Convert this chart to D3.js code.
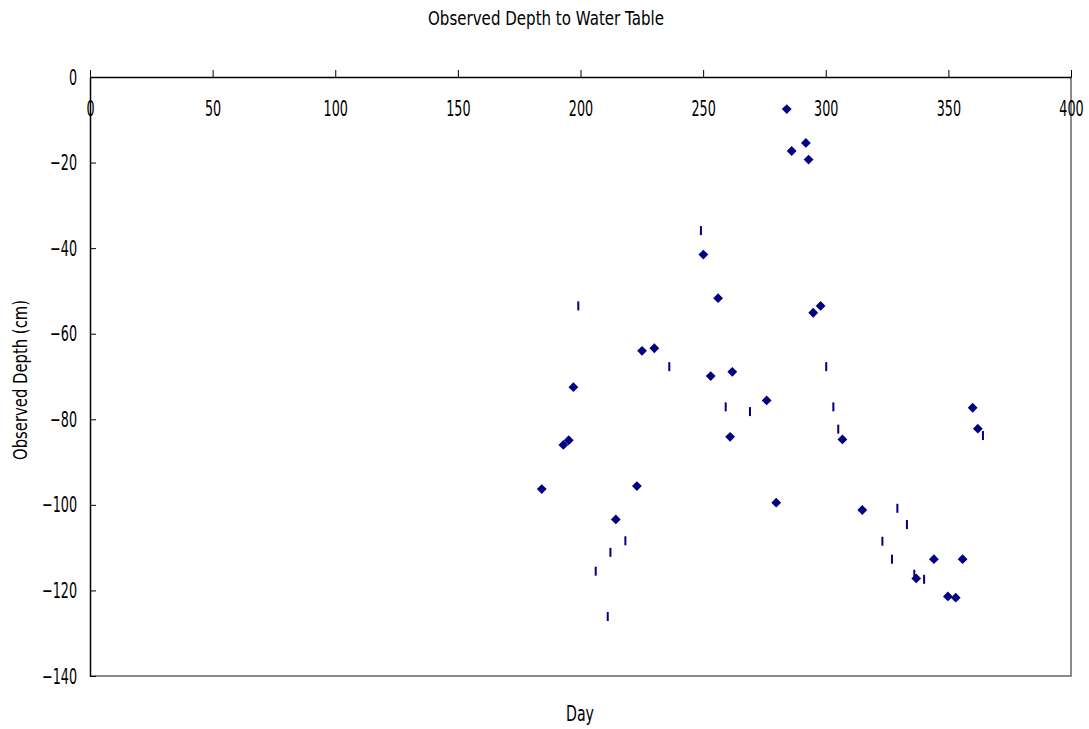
<!DOCTYPE html>
<html>
<head>
<meta charset="utf-8">
<script src="https://cdn.jsdelivr.net/npm/d3@7"></script>
<style>
  body { margin: 0; background: #fff; }
  svg text { font-family: "DejaVu Sans", sans-serif; font-weight: 400; fill: #000; }
</style>
</head>
<body>
<script>
// observed depth, diamonds
var obsDay   = [184.2, 193.0, 195.2, 197.1, 214.4, 223.0, 225.1, 230.1, 250.1, 253.1,
                256.1, 261.0, 261.9, 275.9, 279.8, 284.1, 286.1, 291.9, 293.0, 294.9,
                297.9, 306.8, 314.9, 336.9, 344.1, 349.8, 353.0, 355.8, 359.9, 362.0];
var obsDepth = [-96.3, -86.0, -84.9, -72.5, -103.4, -95.6, -64.0, -63.4, -41.5, -69.9,
                -51.7, -84.1, -68.9, -75.6, -99.5, -7.5, -17.3, -15.4, -19.3, -55.1,
                -53.5, -84.7, -101.2, -117.2, -112.7, -121.4, -121.7, -112.7, -77.3, -82.2];

// second series, dash markers
var dashDay   = [199.1, 206.2, 211.1, 212.2, 218.3, 236.2, 249.1, 259.2, 269.1, 300.2,
                 303.1, 305.1, 323.1, 327.0, 329.2, 333.1, 336.1, 340.1, 364.1];
var dashDepth = [-53.5, -115.5, -126.1, -111.1, -108.4, -67.7, -35.9, -77.1, -78.2, -67.7,
                 -77.1, -82.3, -108.5, -112.7, -100.8, -104.6, -116.2, -117.4, -83.8];

var xTicks = [0, 50, 100, 150, 200, 250, 300, 350, 400];
var yTicks = [0, -20, -40, -60, -80, -100, -120, -140];
var yTickLabels = ["0", "\u221220", "\u221240", "\u221260", "\u221280", "\u2212100", "\u2212120", "\u2212140"];

var width = 1089, height = 729;
var mLeft = 90, mRight = 1071, mTop = 77, mBottom = 676;
var squeeze = 0.58; // the original font is very narrow

var x = d3.scaleLinear().domain([0, 400]).range([mLeft, mRight]);
var y = d3.scaleLinear().domain([0, -140]).range([mTop, mBottom]);

var svg = d3.select("body").append("svg")
    .attr("width", width)
    .attr("height", height);

// right + bottom frame (grey)
svg.append("path")
    .attr("d", "M" + mRight + "," + mTop + "V" + mBottom + "H" + mLeft)
    .attr("fill", "none")
    .attr("stroke", "#666")
    .attr("stroke-width", 1.5);

// x axis along the top, labels hang under the line
var xAxis = svg.append("g")
    .attr("transform", "translate(0," + mTop + ")")
    .call(d3.axisTop(x).tickValues(xTicks).tickSizeInner(7).tickSizeOuter(0));
xAxis.select(".domain").attr("stroke-width", 1.5);
xAxis.selectAll("text")
    .attr("y", 39)
    .attr("dy", null)
    .attr("transform", "scale(" + squeeze + ",1)")
    .style("font-size", "22px");

// y axis, ticks pointing inward
var yAxis = svg.append("g")
    .attr("transform", "translate(" + mLeft + ",0)")
    .call(d3.axisLeft(y).tickValues(yTicks)
        .tickFormat(function(d, i) { return yTickLabels[i]; })
        .tickSizeInner(-6).tickSizeOuter(0).tickPadding(13));
yAxis.select(".domain").attr("stroke-width", 1.5);
yAxis.selectAll("text")
    .attr("x", -13 / squeeze)
    .attr("transform", "scale(" + squeeze + ",1)")
    .style("font-size", "22px");

var obs = obsDay.map(function(d, i) { return {day: d, depth: obsDepth[i]}; });
var dash = dashDay.map(function(d, i) { return {day: d, depth: dashDepth[i]}; });

svg.selectAll(".dia")
    .data(obs)
  .enter().append("path")
    .attr("class", "dia")
    .attr("d", d3.symbol().type(d3.symbolSquare).size(48))
    .attr("transform", function(d) { return "translate(" + x(d.day) + "," + y(d.depth) + ") rotate(45)"; })
    .attr("fill", "#000080");

svg.selectAll(".dash")
    .data(dash)
  .enter().append("rect")
    .attr("class", "dash")
    .attr("x", function(d) { return x(d.day) - 1; })
    .attr("y", function(d) { return y(d.depth) - 4.5; })
    .attr("width", 2)
    .attr("height", 9)
    .attr("fill", "#000080");

svg.append("text")
    .attr("x", 428)
    .attr("y", 25)
    .attr("textLength", 236)
    .attr("lengthAdjust", "spacingAndGlyphs")
    .style("font-size", "19px")
    .text("Observed Depth to Water Table");

svg.append("text")
    .attr("x", 566)
    .attr("y", 721)
    .attr("textLength", 28)
    .attr("lengthAdjust", "spacingAndGlyphs")
    .style("font-size", "21px")
    .text("Day");

svg.append("text")
    .attr("transform", "translate(27,460) rotate(-90)")
    .attr("textLength", 160)
    .attr("lengthAdjust", "spacingAndGlyphs")
    .style("font-size", "20px")
    .text("Observed Depth (cm)");
</script>
</body>
</html>
